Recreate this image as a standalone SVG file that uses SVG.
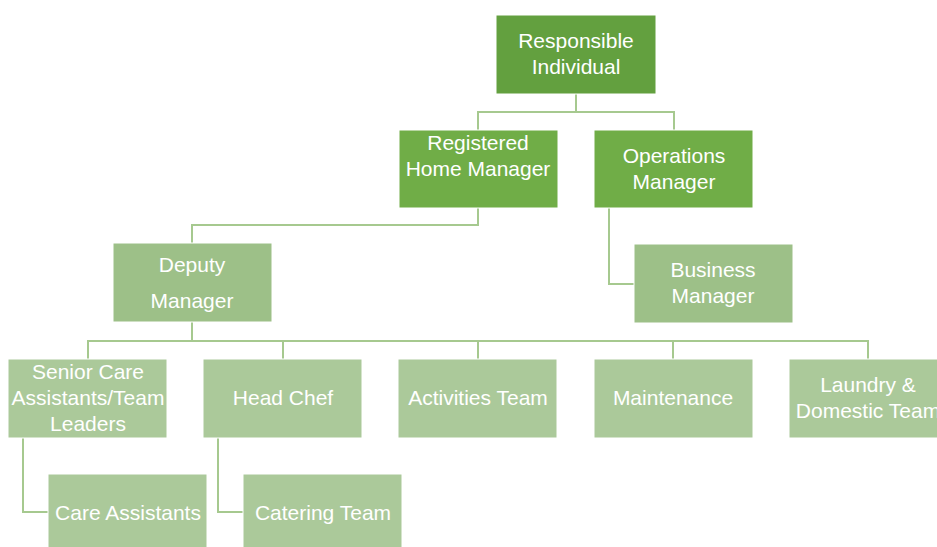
<svg xmlns="http://www.w3.org/2000/svg" width="937" height="547" viewBox="0 0 937 547">
<style>
.n{stroke:#fff;stroke-width:1}
.l1{fill:#63a03f}
.l2{fill:#70ad47}
.l3{fill:#9dc088}
.l4{fill:#abc99a}
text{font-family:"Liberation Sans",Arial,sans-serif;font-size:21px;fill:#fff;text-anchor:middle}
.c{fill:none;stroke:#a6c98f;stroke-width:2}
</style>
<rect width="937" height="547" fill="#fff"/>
<g id="connectors">
<path class="c" d="M576 94V112M478 130V112H674V130"/>
<path class="c" d="M478 208V225H192V243"/>
<path class="c" d="M609 208V284H634"/>
<path class="c" d="M192 322V341M88 359V341H868V359M283 341V359M478 341V359M673 341V359"/>
<path class="c" d="M23 438V512H48"/>
<path class="c" d="M218 438V512H243"/>
</g>
<g id="responsible"><rect class="n l1" x="496" y="15" width="160" height="79"/><text x="576" y="48">Responsible</text><text x="576" y="74">Individual</text></g>
<g id="registered"><rect class="n l2" x="399" y="130" width="159" height="78"/><text x="478" y="150">Registered</text><text x="478" y="176">Home Manager</text></g>
<g id="operations"><rect class="n l2" x="594" y="130" width="159" height="78"/><text x="674" y="163">Operations</text><text x="674" y="189">Manager</text></g>
<g id="deputy"><rect class="n l3" x="113" y="243" width="159" height="79"/><text x="192" y="272">Deputy</text><text x="192" y="308">Manager</text></g>
<g id="business"><rect class="n l3" x="634" y="244" width="159" height="79"/><text x="713" y="277">Business</text><text x="713" y="303">Manager</text></g>
<g id="senior"><rect class="n l4" x="8" y="359" width="159" height="79"/><text x="88" y="379">Senior Care</text><text x="88" y="405">Assistants/Team</text><text x="88" y="431">Leaders</text></g>
<g id="headchef"><rect class="n l4" x="203" y="359" width="159" height="79"/><text x="283" y="405">Head Chef</text></g>
<g id="activities"><rect class="n l4" x="398" y="359" width="159" height="79"/><text x="478" y="405">Activities Team</text></g>
<g id="maintenance"><rect class="n l4" x="594" y="359" width="159" height="79"/><text x="673" y="405">Maintenance</text></g>
<g id="laundry"><rect class="n l4" x="789" y="359" width="159" height="79"/><text x="868" y="392">Laundry &amp;</text><text x="868" y="418">Domestic Team</text></g>
<g id="care"><rect class="n l4" x="48" y="474" width="159" height="79"/><text x="128" y="520">Care Assistants</text></g>
<g id="catering"><rect class="n l4" x="243" y="474" width="159" height="79"/><text x="323" y="520">Catering Team</text></g>
</svg>
